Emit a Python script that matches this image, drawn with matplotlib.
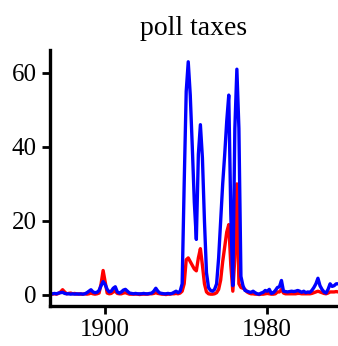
import matplotlib
matplotlib.use("Agg")
import matplotlib.pyplot as plt
import numpy as np

plt.rcParams['font.family'] = ['Liberation Serif', 'DejaVu Serif']

title = "poll taxes"
years = np.arange(1873, 2016)
xticks = [1900, 1980]
yticks = [0, 20, 40, 60]

# blue series, one row per decade (1873-1879, then 1880s ...)
blue = [
    0.3, 0.3, 0.4, 0.3, 0.5, 0.6, 0.7,
    0.4, 0.3, 0.3, 0.2, 0.3, 0.2, 0.3, 0.2, 0.3, 0.2,
    0.3, 0.6, 1.0, 1.4, 0.8, 0.6, 0.7, 1.2, 2.5, 3.6,
    2.8, 1.5, 0.8, 1.0, 1.8, 2.2, 0.8, 0.5, 0.8, 1.3,
    1.5, 1.0, 0.5, 0.4, 0.3, 0.4, 0.3, 0.3, 0.3, 0.4,
    0.3, 0.3, 0.4, 0.5, 1.0, 1.8, 1.0, 0.5, 0.4, 0.3,
    0.3, 0.4, 0.3, 0.4, 0.7, 1.0, 0.6, 1.0, 3.0, 30,
    55, 63, 54, 40, 25, 15, 38, 46, 37, 20,
    6, 2, 1.2, 1.0, 1.5, 3, 10, 20, 30, 38,
    47, 54, 22, 2.5, 45, 61, 45, 5, 2.5, 1.2,
    1.0, 0.8, 0.7, 1.0, 0.6, 0.3, 0.2, 0.5, 0.7, 1.2,
    1.0, 1.5, 0.4, 0.6, 1.2, 2.0, 2.2, 3.9, 1.0, 0.9,
    0.8, 0.9, 1.0, 0.9, 1.0, 1.2, 1.0, 0.7, 1.0, 0.6,
    0.8, 0.7, 1.2, 2.0, 3.0, 4.5, 2.5, 1.5, 0.8, 0.5,
    1.5, 3.0, 2.3, 2.5, 3.0, 3.0,
]

red = [
    0.2, 0.2, 0.3, 0.2, 0.4, 0.8, 1.4,
    0.8, 0.3, 0.4, 0.5, 0.3, 0.4, 0.2, 0.3, 0.2, 0.2,
    0.3, 0.2, 0.3, 0.5, 0.3, 0.2, 0.3, 0.5, 3.0, 6.6,
    3.5, 0.5, 0.3, 0.4, 0.8, 1.0, 0.4, 0.3, 0.3, 0.5,
    0.6, 0.4, 0.2, 0.2, 0.2, 0.2, 0.2, 0.1, 0.2, 0.2,
    0.2, 0.2, 0.3, 0.3, 0.4, 0.6, 0.4, 0.3, 0.2, 0.2,
    0.1, 0.2, 0.2, 0.3, 0.3, 0.4, 0.3, 0.5, 1.0, 3,
    9.5, 10, 9, 8, 7, 6.5, 10, 12.5, 8, 3,
    0.8, 0.3, 0.2, 0.2, 0.3, 0.6, 1.5, 4, 9, 13,
    17, 19, 8, 1, 10, 30, 3, 2, 1.8, 1.5,
    0.8, 0.5, 0.3, 0.3, 0.2, 0.2, 0.1, 0.2, 0.2, 0.3,
    0.4, 0.3, 0.2, 0.2, 0.3, 0.8, 0.8, 1.5, 0.5, 0.3,
    0.3, 0.3, 0.3, 0.3, 0.3, 0.4, 0.4, 0.3, 0.3, 0.3,
    0.3, 0.3, 0.4, 0.6, 0.8, 1.0, 0.8, 0.6, 0.4, 0.3,
    0.5, 0.8, 0.8, 0.8, 0.9, 0.8,
]

fig = plt.figure(figsize=(3.38, 3.46), dpi=100)
ax = fig.add_axes([0.148, 0.1156, 0.852, 0.74])

ax.plot(years, red, color='#ff0000', lw=2.4)
ax.plot(years, blue, color='#0000ff', lw=2.4)

ax.set_xlim(1872.8, 2014.9)
ax.set_ylim(-3, 66.2)
ax.set_xticks(xticks)
ax.set_yticks(yticks)

for s in ['top', 'right']:
    ax.spines[s].set_visible(False)
for s in ['left', 'bottom']:
    ax.spines[s].set_linewidth(2.4)
ax.tick_params(width=2, length=5.5, labelsize=18, pad=4)

ax.set_title(title, fontsize=20, pad=11)

fig.savefig("out.png", dpi=100)
